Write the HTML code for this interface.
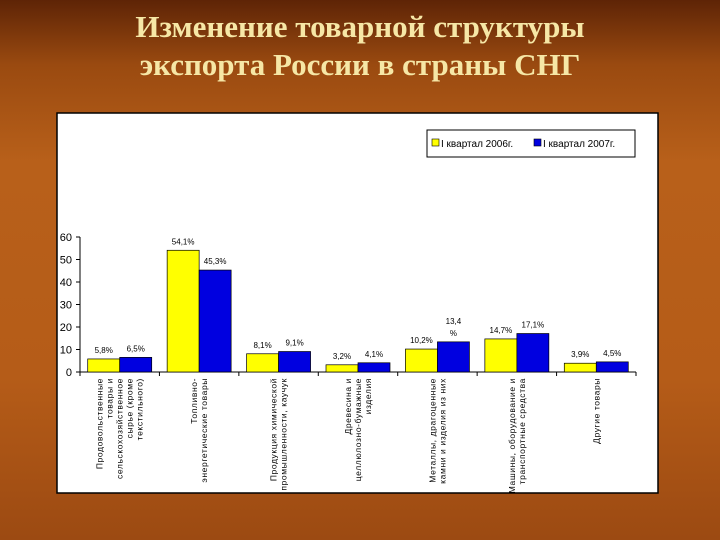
<!DOCTYPE html>
<html><head><meta charset="utf-8"><style>
html,body{margin:0;padding:0;width:720px;height:540px;overflow:hidden}
body{background:linear-gradient(180deg,#5e2406 0%,#9a4a10 12%,#b8601a 30%,#b55c18 70%,#9c4a12 100%);font-family:"Liberation Sans",sans-serif;position:relative}
.title{position:absolute;left:0;top:8px;width:720px;text-align:center;font-family:"Liberation Serif","Noto Serif CJK SC",serif;font-weight:bold;font-size:31px;line-height:38px;color:#f6e7a6}
svg{position:absolute;left:0;top:0}
</style></head><body>
<div class="title">Изменение товарной структуры<br>экспорта России в страны СНГ</div>
<svg width="720" height="540">
<rect x="57" y="113" width="601" height="380" fill="#fff" stroke="#000" stroke-width="1.5"/>
<g>
<rect x="427" y="130" width="208" height="27" fill="#fff" stroke="#000"/>
<rect x="432" y="139" width="7" height="7" fill="#ffff00" stroke="#000" stroke-width="0.6"/>
<text x="441" y="147" font-size="10" fill="#000">I квартал 2006г.</text>
<rect x="534" y="139" width="7" height="7" fill="#0000e0" stroke="#000" stroke-width="0.6"/>
<text x="543" y="147" font-size="10" fill="#000">I квартал 2007г.</text>
</g>
<g id="plot"></g>
</svg>
<script>
const categories=[["Продовольственные","товары и","сельскохозяйственное","сырье (кроме","текстильного)"],["Топливно-","энергетические товары"],["Продукция химической","промышленности, каучук"],["Древесина и","целлюлозно-бумажные","изделия"],["Металлы, драгоценные","камни и изделия из них"],["Машины, оборудование и","транспортные средства"],["Другие товары"]];
const values2006=[5.8,54.1,8.1,3.2,10.2,14.7,3.9];
const values2007=[6.5,45.3,9.1,4.1,13.4,17.1,4.5];
const labels2006=["5,8%","54,1%","8,1%","3,2%","10,2%","14,7%","3,9%"];
const labels2007=["6,5%","45,3%","9,1%","4,1%","13,4 %","17,1%","4,5%"];
const yTicks=[0,10,20,30,40,50,60];
const NS="http://www.w3.org/2000/svg";
const g=document.getElementById('plot');
const x0=80,x1=636,y0=372,ppu=2.25;
const cw=(x1-x0)/categories.length;
function y(v){return y0-v*ppu;}
function mk(t,a,txt){const e=document.createElementNS(NS,t);for(const k in a)e.setAttribute(k,a[k]);if(txt!==undefined)e.textContent=txt;g.appendChild(e);return e;}
let ax=mk('line',{x1:x0,y1:y(60),x2:x0,y2:y0,stroke:'#000'});


let bx=mk('line',{x1:x0,y1:y0,x2:x1,y2:y0,stroke:'#000'});


yTicks.forEach(v=>{
  mk('line',{x1:x0-4,y1:y(v),x2:x0,y2:y(v),stroke:'#000'});
  const t=mk('text',{x:x0-8,y:y(v)+4,'font-size':11,'text-anchor':'end'},String(v));
  
  
});
for(let i=0;i<=categories.length;i++){mk('line',{x1:x0+i*cw,y1:y0,x2:x0+i*cw,y2:y0+4,stroke:'#000'});}
categories.forEach((c,i)=>{
  const cx=x0+i*cw, bw=32;
  const b1=mk('rect',{x:cx+cw/2-bw,y:y(values2006[i]),width:bw,height:values2006[i]*ppu,fill:'#ffff00',stroke:'#000','stroke-width':0.7});
  
  
  const b2=mk('rect',{x:cx+cw/2,y:y(values2007[i]),width:bw,height:values2007[i]*ppu,fill:'#0000e0',stroke:'#000','stroke-width':0.7});
  
  
  const l1=mk('text',{x:cx+cw/2-bw/2,y:y(values2006[i])-6,'font-size':8,'text-anchor':'middle'},labels2006[i]);
  
  
  const parts=labels2007[i].split(' ');
  parts.forEach((p,k)=>{
    const l2=mk('text',{x:cx+cw/2+bw/2,y:y(values2007[i])-6-(parts.length-1-k)*12,'font-size':8,'text-anchor':'middle'},p);
    
    
  });
  const n=c.length;
  c.forEach((line,k)=>{
    const lx=cx+cw/2+(k-(n-1)/2)*10+3;
    const t=mk('text',{x:lx,y:y0+6,'font-size':8.5,'letter-spacing':'0.6','text-anchor':'end',transform:`rotate(-90 ${lx} ${y0+6})`},line);
    
    
  });
});
</script>
</body></html>
